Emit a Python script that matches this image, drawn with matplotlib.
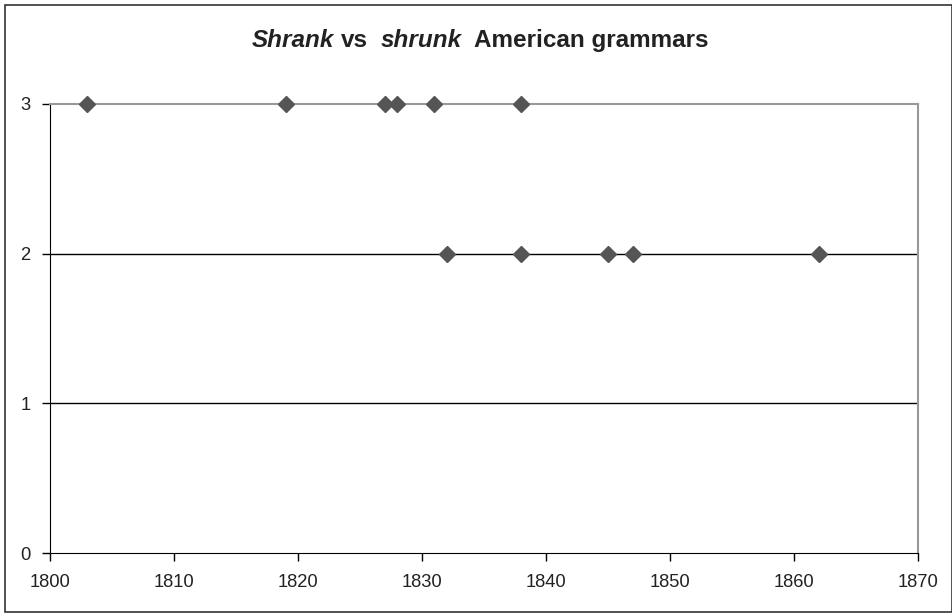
import matplotlib
matplotlib.use("Agg")
import matplotlib.pyplot as plt
from matplotlib.patches import Rectangle

years_shrank = [1803, 1819, 1827, 1828, 1831, 1838]
vals_shrank = [3, 3, 3, 3, 3, 3]
years_shrunk = [1832, 1838, 1845, 1847, 1862]
vals_shrunk = [2, 2, 2, 2, 2]
x_ticks = [1800, 1810, 1820, 1830, 1840, 1850, 1860, 1870]
y_ticks = [0, 1, 2, 3]

plt.rcParams['font.family'] = ['Liberation Sans', 'DejaVu Sans']

W, H = 953, 613
fig = plt.figure(figsize=(W / 100, H / 100), dpi=100)
ax = fig.add_axes([50 / W, (H - 553) / H, (918 - 50) / W, (553 - 104) / H])

ax.set_xlim(1800, 1870)
ax.set_ylim(0, 3)
ax.set_xticks(x_ticks)
ax.set_yticks(y_ticks)
ax.tick_params(axis='both', direction='out', length=6, width=1, labelsize=13.2,
               colors='black', labelcolor='#222222')
ax.tick_params(axis='y', pad=8)
ax.tick_params(axis='x', pad=9)

for y in [1, 2]:
    ax.axhline(y, color='black', lw=1, zorder=1)

ax.spines['left'].set_color('black')
ax.spines['bottom'].set_color('black')
ax.spines['top'].set_color('#999999')
ax.spines['right'].set_color('#999999')
ax.spines['top'].set_linewidth(1.5)
ax.spines['right'].set_linewidth(1.5)

ax.plot(years_shrank, vals_shrank, linestyle='none', marker='D', ms=8,
        color='#555555', clip_on=False, zorder=3)
ax.plot(years_shrunk, vals_shrunk, linestyle='none', marker='D', ms=8,
        color='#555555', clip_on=False, zorder=3)

# outer border
fig.patches.append(Rectangle((5 / W, 1 / H), (W - 6) / W, (H - 6) / H,
                             transform=fig.transFigure, fill=False,
                             edgecolor='#333333', lw=1.2))

# title in mixed styles: (text, style, gap after in px)
parts = [("Shrank", 'italic', 7), ("vs", 'normal', 12), ("shrunk", 'italic', 13),
         ("American grammars", 'normal', 0)]
fig.canvas.draw()
renderer = fig.canvas.get_renderer()
xpix = 252
ybase = H - 47
for txt, style, gap in parts:
    t = fig.text(xpix / W, ybase / H, txt, fontsize=17.5, fontweight='bold',
                 fontstyle=style, ha='left', va='baseline', color='#222222')
    bb = t.get_window_extent(renderer=renderer)
    xpix += bb.width + gap

fig.savefig("out.png", dpi=100)
